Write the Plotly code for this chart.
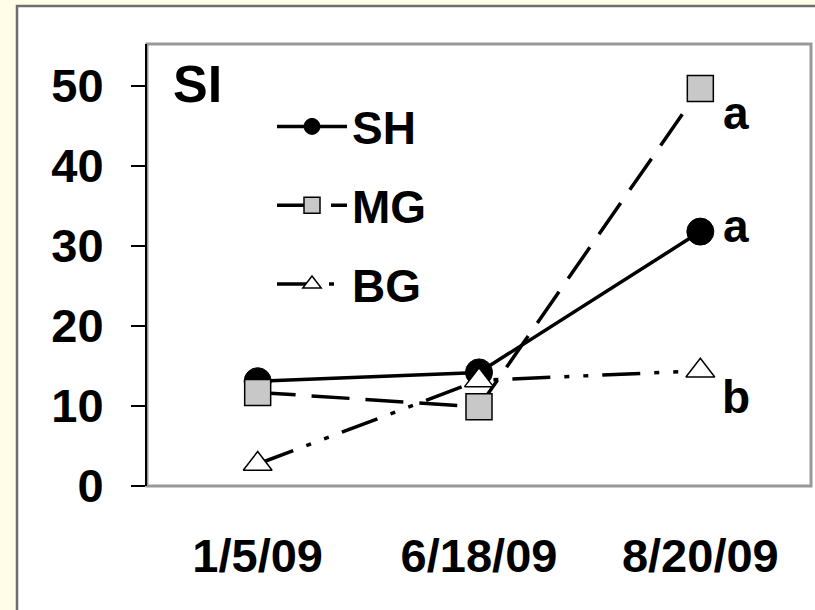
import plotly.graph_objects as go

dates = ["1/5/09", "6/18/09", "8/20/09"]
sh = [13.1, 14.2, 31.8]
mg = [11.7, 9.9, 49.7]
bg = [2.75, 13.2, 14.4]
sig = {"SH": "a", "MG": "a", "BG": "b"}
yticks = [0, 10, 20, 30, 40, 50]
panel_label = "SI"

FONT = "Arial, Liberation Sans, sans-serif"
W, H = 815, 610
L, R, T, B = 147, 4, 44, 124
pw, ph = W - L - R, H - T - B

fig = go.Figure()
fig.add_trace(go.Scatter(
    x=dates, y=sh, name="SH", mode="lines+markers", legendgroup="g1",
    line=dict(color="black", width=3.5),
    marker=dict(symbol="circle", size=27, color="black", line=dict(color="black", width=1)),
))
fig.add_trace(go.Scatter(
    x=dates, y=mg, name="MG", mode="lines+markers", legendgroup="g2",
    line=dict(color="black", width=3.5, dash="38px,16px"),
    marker=dict(symbol="square", size=26, color="#c8c8c8", line=dict(color="black", width=1.5)),
))
fig.add_trace(go.Scatter(
    x=dates, y=bg, name="BG", mode="lines+markers", legendgroup="g3",
    line=dict(color="black", width=3.5, dash="38px,14px,5px,14px,5px,14px"),
    marker=dict(symbol="triangle-up", size=25, color="white", line=dict(color="black", width=1.5)),
))

shifts = {"SH": (36, 6), "MG": (36, -25), "BG": (36, -26)}
for name, ys in (("SH", sh), ("MG", mg), ("BG", bg)):
    fig.add_annotation(x=dates[-1], y=ys[-1], text=sig[name], showarrow=False,
                       xanchor="center", yanchor="middle",
                       xshift=shifts[name][0], yshift=shifts[name][1],
                       font=dict(family=FONT, size=46, color="black", weight="bold"))

fig.add_annotation(xref="paper", yref="paper", x=(197 - L) / pw, y=(H - B - 84) / ph,
                   xanchor="center", yanchor="middle",
                   text=panel_label, showarrow=False,
                   font=dict(family=FONT, size=52, color="black", weight="bold"))

# outer white panel on cream page
fig.add_shape(type="rect", xref="paper", yref="paper", layer="below",
              x0=(17 - L) / pw, x1=(W + 10 - L) / pw,
              y0=-(B + 10) / ph, y1=(ph + T - 6) / ph,
              fillcolor="white", line=dict(color="#6e6e6e", width=2.5))
# plot frame
fig.add_shape(type="rect", xref="paper", yref="paper", layer="below",
              x0=0, x1=1, y0=0, y1=1,
              fillcolor="rgba(0,0,0,0)", line=dict(color="#999999", width=3))

fig.update_layout(
    width=W, height=H,
    margin=dict(l=L, r=R, t=T, b=B),
    paper_bgcolor="#fffde6",
    plot_bgcolor="rgba(0,0,0,0)",
    font=dict(family=FONT, size=46, color="black"),
    showlegend=True,
    legend=dict(x=(272 - L) / pw, y=(H - B - 90) / ph, xanchor="left", yanchor="top",
                bgcolor="rgba(0,0,0,0)", itemwidth=70, tracegroupgap=16,
                font=dict(family=FONT, size=46, color="black", weight="bold")),
)
fig.update_xaxes(type="category", range=[-0.5, 2.5], showgrid=False, zeroline=False,
                 showline=False, ticks="", ticklabelstandoff=38,
                 tickfont=dict(family=FONT, size=47, color="black", weight="bold"))
fig.update_yaxes(range=[0, 55.25], tickvals=yticks, showgrid=False, zeroline=False,
                 showline=True, linecolor="black", linewidth=2,
                 ticks="outside", ticklen=14, tickwidth=2, tickcolor="black",
                 ticklabelstandoff=18,
                 tickfont=dict(family=FONT, size=47, color="black", weight="bold"))

fig.write_html("out.html")
